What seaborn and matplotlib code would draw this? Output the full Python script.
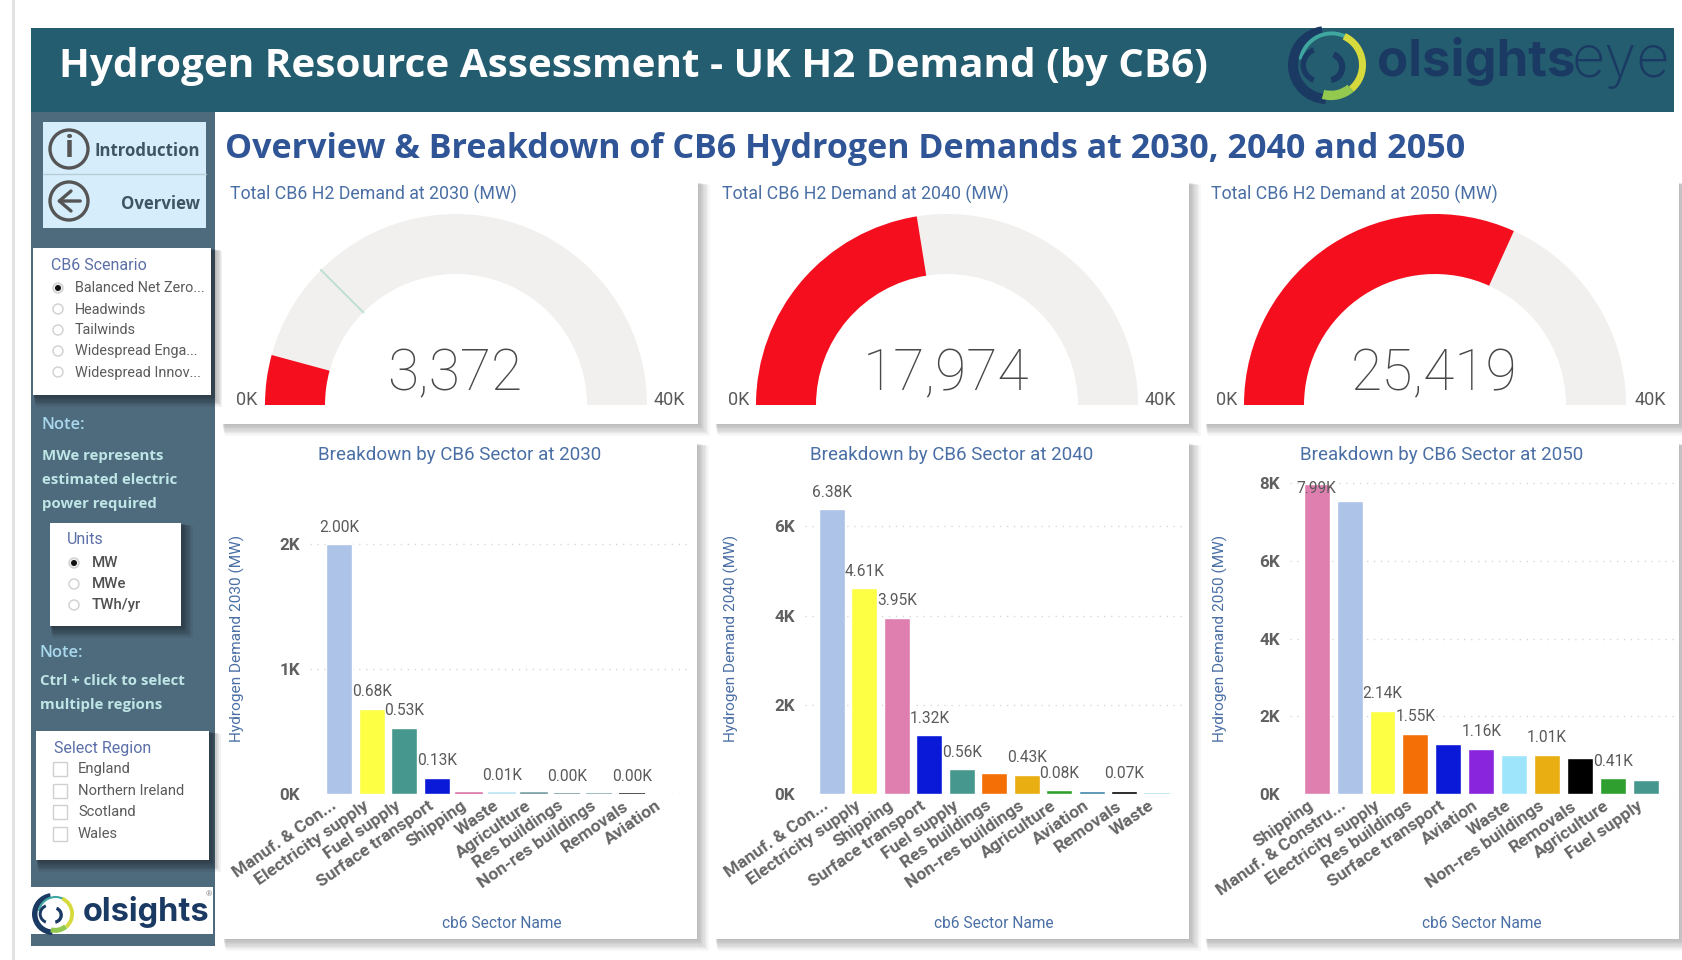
import numpy as np
import pandas as pd
import matplotlib
matplotlib.use("Agg")
import matplotlib.pyplot as plt
from matplotlib.patches import Rectangle, Wedge, Circle
from matplotlib.transforms import ScaledTranslation
import seaborn as sns

# gauges
gauge_years = [2030, 2040, 2050]
gauge_values = [3372, 17974, 25419]
gauge_max = 40000
gauge_target_2030 = 10000

# bars, in K
sectors_2030 = ["Manuf. & Con...", "Electricity supply", "Fuel supply", "Surface transport", "Shipping", "Waste",
                "Agriculture", "Res buildings", "Non-res buildings", "Removals", "Aviation"]
values_2030 = [2.00, 0.68, 0.53, 0.13, 0.012, 0.01, 0.008, 0.004, 0.004, 0.004, 0.0]
labelled_2030 = [0, 1, 2, 3, 5, 7, 9]

sectors_2040 = ["Manuf. & Con...", "Electricity supply", "Shipping", "Surface transport", "Fuel supply", "Res buildings",
                "Non-res buildings", "Agriculture", "Aviation", "Removals", "Waste"]
values_2040 = [6.38, 4.61, 3.95, 1.32, 0.56, 0.48, 0.43, 0.08, 0.07, 0.07, 0.01]
labelled_2040 = [0, 1, 2, 3, 4, 6, 7, 9]

sectors_2050 = ["Shipping", "Manuf. & Constru...", "Electricity supply", "Res buildings", "Surface transport", "Aviation",
                "Waste", "Non-res buildings", "Removals", "Agriculture", "Fuel supply"]
values_2050 = [7.99, 7.55, 2.14, 1.55, 1.30, 1.16, 1.00, 1.01, 0.92, 0.41, 0.36]
labelled_2050 = [0, 2, 3, 5, 7, 9]

colors_2030 = ["#AEC3E8", "#FDFF44", "#46988E", "#0A18D8", "#DE7FB0", "#BFE6F2", "#7FA3A8", "#7FA3A8", "#8FB0B8", "#333333", "#FFFFFF"]
colors_2040 = ["#AEC3E8", "#FDFF44", "#DE7FB0", "#0A18D8", "#46988E", "#F56F07", "#E9AE12", "#2FA02F", "#3A84A8", "#000000", "#BFE6F2"]
colors_2050 = ["#DE7FB0", "#AEC3E8", "#FDFF44", "#F56F07", "#0A18D8", "#8A25DE", "#9EE5FB", "#E9AE12", "#000000", "#2FA02F", "#46988E"]

scenarios = ["Balanced Net Zero...", "Headwinds", "Tailwinds", "Widespread Enga...", "Widespread Innov..."]
units = ["MW", "MWe", "TWh/yr"]
regions = ["England", "Northern Ireland", "Scotland", "Wales"]

TITLE_BLUE = "#4A6FA5"
GREY = "#5A5A5A"
NAVY = "#1B3A63"
BODY = "Roboto"

W, H = 1682, 960
sns.set_theme(style="white")
plt.rcParams["font.family"] = [BODY, "DejaVu Sans"]

fig = plt.figure(figsize=(W / 100, H / 100), dpi=100, facecolor="white")
bg = fig.add_axes([0, 0, 1, 1], zorder=0)
bg.set_xlim(0, W)
bg.set_ylim(H, 0)
bg.axis("off")


def px(size):
    return size * 0.72


def card(x0, y0, x1, y1, strength=0.03, spread=9):
    for k in range(spread, 0, -1):
        bg.add_patch(Rectangle((x0 + k * 0.3, y0 + k * 0.3), x1 - x0 + k, y1 - y0 + k, fc="black", ec="none", alpha=strength))
    bg.add_patch(Rectangle((x0, y0), x1 - x0, y1 - y0, fc="white", ec="none"))


def radio(x, y, on=False):
    bg.add_patch(Circle((x, y), 5, fc="#EEEEEE" if on else "white", ec="#D0D0D0", lw=1))
    if on:
        bg.add_patch(Circle((x, y), 3, fc="#111111", ec="none"))


def logo(cx, cy, r):
    bg.add_patch(Wedge((cx, cy), r, 92, 262, width=r * 0.26, fc=NAVY, ec="none"))
    bg.add_patch(Wedge((cx + r * 0.12, cy), r * 0.86, 190, 300, width=r * 0.1, fc="#3FA7A0", ec="none"))
    bg.add_patch(Wedge((cx + r * 0.1, cy), r * 0.9, -65, 50, width=r * 0.18, fc="#D6DA3C", ec="none"))
    bg.add_patch(Wedge((cx + r * 0.1, cy), r * 0.9, 50, 105, width=r * 0.24, fc="#93C94F", ec="none"))
    bg.add_patch(Wedge((cx + r * 0.05, cy + r * 0.05), r * 0.42, -70, 80, width=r * 0.16, fc=NAVY, ec="none"))
    bg.add_patch(Wedge((cx - r * 0.2, cy), r * 0.48, 110, 250, width=r * 0.14, fc=NAVY, ec="none"))


# page edge and header
bg.add_patch(Rectangle((12, 0), 3, H, fc="#E2E2E2", ec="none"))
bg.add_patch(Rectangle((31, 28), 1643, 84, fc="#245D6F", ec="none"))
bg.add_patch(Rectangle((31, 112), 184, 834, fc="#4E6A7D", ec="none"))
bg.text(59, 67, "Hydrogen Resource Assessment - UK H2 Demand (by CB6)", color="white", family="Open Sans",
        weight="bold", fontsize=px(40.4), va="center")
logo(1327, 65, 39)
bg.text(1377, 62, "olsights", color=NAVY, family="Inter", weight="bold", fontsize=px(51), va="center")
bg.text(1670, 62, "eye", color=NAVY, family="Inter", weight="light", fontsize=px(58), va="center", ha="right")
bg.text(225, 149, "Overview & Breakdown of CB6 Hydrogen Demands at 2030, 2040 and 2050", color="#2F5597",
        family="Open Sans", weight="bold", fontsize=px(34), va="center")

# side panel
bg.add_patch(Rectangle((43, 122), 163, 106, fc="#D6EEFB", ec="none"))
bg.plot([43, 206], [174, 174], color="#B8CCD8", lw=1)
for cy in [149, 201]:
    bg.add_patch(Circle((69, cy), 19, fc="none", ec="#555555", lw=2.4))
bg.text(69, 149, "i", color="#555555", fontsize=px(30), weight="bold", ha="center", va="center", family="Open Sans")
bg.annotate("", xy=(54, 201), xytext=(83, 201), arrowprops=dict(arrowstyle="->,head_width=0.6,head_length=0.7", color="#555555", lw=2.4))
bg.text(200, 151, "Introduction", color="#3E5563", fontsize=px(16.7), weight="bold", ha="right", va="center", family="Open Sans")
bg.text(200, 204, "Overview", color="#3E5563", fontsize=px(16.7), weight="bold", ha="right", va="center", family="Open Sans")

card(33, 248, 211, 395, strength=0.05)
bg.text(51, 265, "CB6 Scenario", color="#5B6FA8", fontsize=px(16), va="center")
for i, name in enumerate(scenarios):
    y = 288 + i * 21
    radio(58, y, i == 0)
    bg.text(75, y + 0.5, name, color=GREY, fontsize=px(14.4), va="center")

note = "#A9D8EE"
body = "#BFE6E6"
bg.text(42, 425, "Note:", color=note, fontsize=px(16.5), va="center", family="Open Sans", weight="semibold")
for y, line in zip([456, 480, 504], ["MWe represents", "estimated electric", "power required"]):
    bg.text(42, y, line, color=body, fontsize=px(15), va="center", family="Open Sans", weight="bold")

card(50, 523, 181, 626, strength=0.05)
bg.text(67, 540, "Units", color="#5B6FA8", fontsize=px(16), va="center")
for i, name in enumerate(units):
    y = 563 + i * 21
    radio(74, y, i == 0)
    bg.text(92, y, name, color="#505050", fontsize=px(15), va="center", weight="medium")

bg.text(40, 653, "Note:", color=note, fontsize=px(16.5), va="center", family="Open Sans", weight="semibold")
for y, line in zip([681, 705], ["Ctrl + click to select", "multiple regions"]):
    bg.text(40, y, line, color=body, fontsize=px(15), va="center", family="Open Sans", weight="bold")

card(36, 731, 209, 860, strength=0.05)
bg.text(54, 748, "Select Region", color="#5B6FA8", fontsize=px(16), va="center")
for i, name in enumerate(regions):
    y = 769 + i * 21.5
    bg.add_patch(Rectangle((53, y - 7), 14, 14, fc="white", ec="#D0D0D0", lw=1))
    bg.text(78, y + 0.5, name, color=GREY, fontsize=px(14.8), va="center")

bg.add_patch(Rectangle((31, 887), 182, 47, fc="white", ec="none"))
logo(53, 914, 21)
bg.text(83, 912, "olsights", color=NAVY, family="Inter", weight="bold", fontsize=px(32.5), va="center")
bg.text(206, 894, "®", color="#888888", fontsize=px(8), va="center")

# gauges
gauge_cards = [(222, 698), (715, 1189), (1205, 1679)]
gauge_centres = [456, 947, 1435]
gauge_title_x = [230, 722, 1211]
zero_x = [247, 739, 1227]
max_x = [669, 1160, 1650]
base_y = 405
outer, inner = 191, 131
for i, year in enumerate(gauge_years):
    x0, x1 = gauge_cards[i]
    card(x0, 182, x1, 424)
    c = gauge_centres[i]
    f = gauge_values[i] / gauge_max
    bg.add_patch(Wedge((c, base_y), outer, 180, 360, width=outer - inner, fc="#F1F0EE", ec="none"))
    bg.add_patch(Wedge((c, base_y), outer, 180, 180 + 180 * f, width=outer - inner, fc="#F40E1E", ec="none"))
    bg.text(gauge_title_x[i], 194, f"Total CB6 H2 Demand at {year} (MW)", color=TITLE_BLUE, fontsize=px(17.7), va="center")
    bg.text(c - 1, 375, f"{gauge_values[i]:,}", color="#484848", fontsize=px(57), weight="light", ha="center", va="center")
    bg.text(zero_x[i], 400, "0K", color=GREY, fontsize=px(18), ha="center", va="center")
    bg.text(max_x[i], 400, "40K", color=GREY, fontsize=px(18), ha="center", va="center")
a = np.pi * gauge_target_2030 / gauge_max
bg.plot([gauge_centres[0] - outer * np.cos(a), gauge_centres[0] - inner * np.cos(a)],
        [base_y - outer * np.sin(a), base_y - inner * np.sin(a)], color="#BFE0D5", lw=1.5)

# bar charts
bar_cards = [(223, 697), (715, 1189), (1205, 1679)]
first_bar = [339.3, 831.8, 1316.7]
pitch = [32.5, 32.5, 32.9]
grid_x = [(310, 690), (805, 1183), (1290, 1678)]
px_per_k = [125.0, 44.6, 38.84]
y_ticks = [[0, 1, 2], [0, 2, 4, 6], [0, 2, 4, 6, 8]]
bar_title_x = [460, 952, 1442]
ylabel_x = [237, 731, 1220]
xlabel_x = [502, 994, 1482]
bottom_y, top_y = 794, 470

charts = [(sectors_2030, values_2030, colors_2030, labelled_2030),
          (sectors_2040, values_2040, colors_2040, labelled_2040),
          (sectors_2050, values_2050, colors_2050, labelled_2050)]

for i, (names, values, colors, labelled) in enumerate(charts):
    x0, x1 = bar_cards[i]
    card(x0, 443, x1, 939)
    year = gauge_years[i]
    bg.text(bar_title_x[i], 455, f"Breakdown by CB6 Sector at {year}", color=TITLE_BLUE, fontsize=px(18.8), ha="center", va="center")
    bg.text(ylabel_x[i], 638, f"Hydrogen Demand {year} (MW)", color=TITLE_BLUE, fontsize=px(15.4), rotation=90, ha="center", va="center")
    bg.text(xlabel_x[i], 923, "cb6 Sector Name", color=TITLE_BLUE, fontsize=px(15.5), ha="center", va="center")

    gl, gr = grid_x[i]
    ax = fig.add_axes([gl / W, 1 - bottom_y / H, (gr - gl) / W, (bottom_y - top_y) / H], zorder=2)
    ax.patch.set_alpha(0)
    df = pd.DataFrame({"sector": names, "value": values})
    sns.barplot(data=df, x="sector", y="value", hue="sector", palette=colors, order=names, hue_order=names,
                width=0.79, saturation=1, legend=False, dodge=False, ax=ax, zorder=3)
    # very small bars still show as a thin line
    for bar in ax.patches:
        if 0 < bar.get_height() < 0.02:
            bar.set_edgecolor(bar.get_facecolor())
            bar.set_linewidth(1.2)
    ax.set_xlim((gl - first_bar[i]) / pitch[i], (gr - first_bar[i]) / pitch[i])
    ymax = (bottom_y - top_y) / px_per_k[i]
    ax.set_ylim(0, ymax)
    ax.set_yticks(y_ticks[i])
    ax.set_yticklabels([f"{t}K" for t in y_ticks[i]], color="#606060", fontsize=px(17), weight="bold")
    ax.set_xticks(range(len(names)))
    ax.set_xticklabels(names, rotation=35, ha="right", rotation_mode="anchor", color="#666666", fontsize=px(17.5), weight="bold")
    ax.tick_params(axis="both", length=0)
    ax.tick_params(axis="y", pad=7)
    ax.tick_params(axis="x", pad=3)
    # tick_params resets the label transform, so the nudge comes after it
    shift = ScaledTranslation(-9 / 100, 0, fig.dpi_scale_trans)
    for lab in ax.get_xticklabels():
        lab.set_transform(lab.get_transform() + shift)
    ax.set_xlabel("")
    ax.set_ylabel("")
    ax.yaxis.grid(True, color="#D8D8D8", lw=1, ls=(0, (1, 4)), zorder=0)
    ax.set_axisbelow(True)
    sns.despine(ax=ax, left=True, bottom=True)
    for j in labelled:
        v = values[j]
        off = -5 if v / ymax > 0.93 else 17
        ax.annotate(f"{v:.2f}K", xy=(j, v), xytext=(0, off * 0.72), textcoords="offset points", color=GREY,
                    fontsize=px(15.5), ha="center", va="center", annotation_clip=False)

fig.savefig("out.png", dpi=100, facecolor="white")
